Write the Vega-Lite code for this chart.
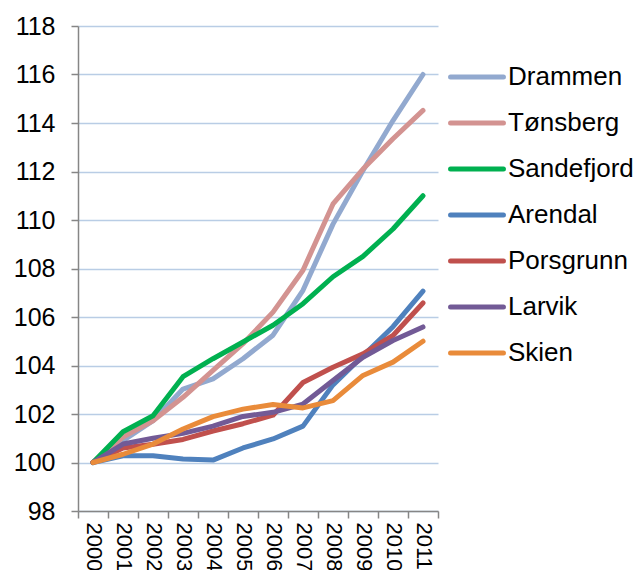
{
  "$schema": "https://vega.github.io/schema/vega-lite/v6.json",
  "width": 360,
  "height": 485,
  "autosize": "none",
  "padding": {"left": 78, "top": 26, "right": 202, "bottom": 59},
  "config": {"view": {"stroke": null}, "font": "Liberation Sans"},
  "data": {"values": [
    {"city": "Drammen", "year": 2000, "value": 100},
    {"city": "Drammen", "year": 2001, "value": 100.9},
    {"city": "Drammen", "year": 2002, "value": 101.72},
    {"city": "Drammen", "year": 2003, "value": 103.03},
    {"city": "Drammen", "year": 2004, "value": 103.45},
    {"city": "Drammen", "year": 2005, "value": 104.28},
    {"city": "Drammen", "year": 2006, "value": 105.25},
    {"city": "Drammen", "year": 2007, "value": 107.1},
    {"city": "Drammen", "year": 2008, "value": 109.83},
    {"city": "Drammen", "year": 2009, "value": 112.04},
    {"city": "Drammen", "year": 2010, "value": 114.1},
    {"city": "Drammen", "year": 2011, "value": 116.0},
    {"city": "Tønsberg", "year": 2000, "value": 100},
    {"city": "Tønsberg", "year": 2001, "value": 101.05},
    {"city": "Tønsberg", "year": 2002, "value": 101.72},
    {"city": "Tønsberg", "year": 2003, "value": 102.69},
    {"city": "Tønsberg", "year": 2004, "value": 103.8},
    {"city": "Tønsberg", "year": 2005, "value": 104.9},
    {"city": "Tønsberg", "year": 2006, "value": 106.2},
    {"city": "Tønsberg", "year": 2007, "value": 107.93},
    {"city": "Tønsberg", "year": 2008, "value": 110.66},
    {"city": "Tønsberg", "year": 2009, "value": 112.1},
    {"city": "Tønsberg", "year": 2010, "value": 113.35},
    {"city": "Tønsberg", "year": 2011, "value": 114.52},
    {"city": "Sandefjord", "year": 2000, "value": 100},
    {"city": "Sandefjord", "year": 2001, "value": 101.27},
    {"city": "Sandefjord", "year": 2002, "value": 101.93},
    {"city": "Sandefjord", "year": 2003, "value": 103.54},
    {"city": "Sandefjord", "year": 2004, "value": 104.28},
    {"city": "Sandefjord", "year": 2005, "value": 104.97},
    {"city": "Sandefjord", "year": 2006, "value": 105.66},
    {"city": "Sandefjord", "year": 2007, "value": 106.55},
    {"city": "Sandefjord", "year": 2008, "value": 107.66},
    {"city": "Sandefjord", "year": 2009, "value": 108.5},
    {"city": "Sandefjord", "year": 2010, "value": 109.63},
    {"city": "Sandefjord", "year": 2011, "value": 111.0},
    {"city": "Arendal", "year": 2000, "value": 100},
    {"city": "Arendal", "year": 2001, "value": 100.28},
    {"city": "Arendal", "year": 2002, "value": 100.28},
    {"city": "Arendal", "year": 2003, "value": 100.14},
    {"city": "Arendal", "year": 2004, "value": 100.1},
    {"city": "Arendal", "year": 2005, "value": 100.6},
    {"city": "Arendal", "year": 2006, "value": 100.97},
    {"city": "Arendal", "year": 2007, "value": 101.5},
    {"city": "Arendal", "year": 2008, "value": 103.2},
    {"city": "Arendal", "year": 2009, "value": 104.4},
    {"city": "Arendal", "year": 2010, "value": 105.6},
    {"city": "Arendal", "year": 2011, "value": 107.07},
    {"city": "Porsgrunn", "year": 2000, "value": 100},
    {"city": "Porsgrunn", "year": 2001, "value": 100.6},
    {"city": "Porsgrunn", "year": 2002, "value": 100.75},
    {"city": "Porsgrunn", "year": 2003, "value": 100.95},
    {"city": "Porsgrunn", "year": 2004, "value": 101.3},
    {"city": "Porsgrunn", "year": 2005, "value": 101.6},
    {"city": "Porsgrunn", "year": 2006, "value": 101.95},
    {"city": "Porsgrunn", "year": 2007, "value": 103.3},
    {"city": "Porsgrunn", "year": 2008, "value": 103.93},
    {"city": "Porsgrunn", "year": 2009, "value": 104.48},
    {"city": "Porsgrunn", "year": 2010, "value": 105.24},
    {"city": "Porsgrunn", "year": 2011, "value": 106.58},
    {"city": "Larvik", "year": 2000, "value": 100},
    {"city": "Larvik", "year": 2001, "value": 100.76},
    {"city": "Larvik", "year": 2002, "value": 101.0},
    {"city": "Larvik", "year": 2003, "value": 101.2},
    {"city": "Larvik", "year": 2004, "value": 101.5},
    {"city": "Larvik", "year": 2005, "value": 101.9},
    {"city": "Larvik", "year": 2006, "value": 102.07},
    {"city": "Larvik", "year": 2007, "value": 102.41},
    {"city": "Larvik", "year": 2008, "value": 103.38},
    {"city": "Larvik", "year": 2009, "value": 104.34},
    {"city": "Larvik", "year": 2010, "value": 105.03},
    {"city": "Larvik", "year": 2011, "value": 105.59},
    {"city": "Skien", "year": 2000, "value": 100},
    {"city": "Skien", "year": 2001, "value": 100.34},
    {"city": "Skien", "year": 2002, "value": 100.76},
    {"city": "Skien", "year": 2003, "value": 101.38},
    {"city": "Skien", "year": 2004, "value": 101.89},
    {"city": "Skien", "year": 2005, "value": 102.2},
    {"city": "Skien", "year": 2006, "value": 102.39},
    {"city": "Skien", "year": 2007, "value": 102.25},
    {"city": "Skien", "year": 2008, "value": 102.55},
    {"city": "Skien", "year": 2009, "value": 103.59},
    {"city": "Skien", "year": 2010, "value": 104.14},
    {"city": "Skien", "year": 2011, "value": 105.0}
  ]},
  "mark": {"type": "line", "strokeWidth": 5, "strokeCap": "round", "strokeJoin": "round"},
  "encoding": {
    "x": {
      "field": "year", "type": "quantitative",
      "scale": {"domain": [1999.5, 2011.5], "nice": false, "zero": false},
      "axis": {
        "values": [1999.5, 2000.5, 2001.5, 2002.5, 2003.5, 2004.5, 2005.5, 2006.5, 2007.5, 2008.5, 2009.5, 2010.5, 2011.5],
        "labelExpr": "datum.value > 2011 ? '' : format(datum.value + 0.5, 'd')",
        "labelOffset": 15,
        "labelAngle": 90,
        "labelFontSize": 22,
        "labelColor": "black",
        "labelFlush": false,
        "labelOverlap": false,
        "labelPadding": 4,
        "domainColor": "#868686",
        "domainWidth": 1.5,
        "tickColor": "#868686",
        "tickWidth": 1.5,
        "tickSize": 7,
        "grid": false,
        "title": null
      }
    },
    "y": {
      "field": "value", "type": "quantitative",
      "scale": {"domain": [98, 118], "nice": false, "zero": false},
      "axis": {
        "values": [98, 100, 102, 104, 106, 108, 110, 112, 114, 116, 118],
        "labelFontSize": 25,
        "labelColor": "black",
        "labelPadding": 16,
        "labelFlush": false,
        "domainColor": "#868686",
        "domainWidth": 1.5,
        "tickColor": "#868686",
        "tickWidth": 1.5,
        "tickSize": 7,
        "gridColor": "#B9CDE5",
        "gridWidth": 1.5,
        "title": null
      }
    },
    "color": {
      "field": "city", "type": "nominal",
      "scale": {
        "domain": ["Drammen", "Tønsberg", "Sandefjord", "Arendal", "Porsgrunn", "Larvik", "Skien"],
        "range": ["#92A9CF", "#D39391", "#00B050", "#4F81BD", "#C0504D", "#725A96", "#E98B3A"]
      },
      "legend": {
        "title": null,
        "orient": "none",
        "legendX": 370,
        "legendY": 22,
        "symbolType": "stroke",
        "symbolStrokeWidth": 5,
        "symbolSize": 2800,
        "labelFontSize": 26,
        "labelColor": "black",
        "labelOffset": 2,
        "rowPadding": 4,
        "encode": {"symbols": {"update": {"strokeCap": {"value": "round"}}}}
      }
    }
  }
}
